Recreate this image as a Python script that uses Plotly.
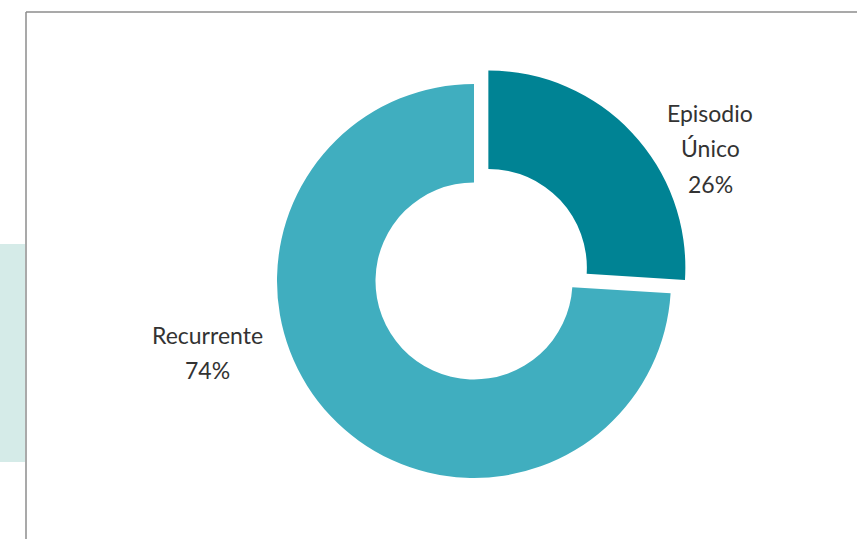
import plotly.graph_objects as go

# Data
labels = ["Episodio Único", "Recurrente"]
label_lines = [["Episodio", "Único"], ["Recurrente"]]
values = [26, 74]
colors = ["#008394", "#40AEBF"]
pulls = [0.10, 0.0]

W, H = 857, 539
cx, cy = 474, 281          # pie centre in pixels (from top)
r = 197                    # outer radius in pixels
half = r * (1 + max(pulls))

fig = go.Figure()
fig.add_trace(go.Pie(
    labels=labels, values=values, sort=False, direction="clockwise", rotation=0,
    hole=0.5, pull=pulls, marker=dict(colors=colors, line=dict(width=0)),
    textinfo="none", hoverinfo="label+percent", showlegend=False,
    domain=dict(x=[(cx - half) / W, (cx + half) / W],
                y=[(H - cy - half) / H, (H - cy + half) / H]),
))

# labels (outside text)
label_pos = [(710, [113, 148, 184]), (207, [335, 370])]
annotations = []
for lines, v, (lx, ys) in zip(label_lines, values, label_pos):
    texts = lines + [f"{v}%"]
    for t, y in zip(texts, ys):
        annotations.append(dict(
            text=t, x=lx / W, y=1 - y / H, xref="paper", yref="paper",
            showarrow=False, xanchor="center", yanchor="middle",
            font=dict(family="Lato", size=23, color="#333333")))

shapes = [
    dict(type="rect", xref="paper", yref="paper", x0=0, x1=25 / W,
         y0=1 - 462 / H, y1=1 - 244 / H, fillcolor="#D5EBE8", line=dict(width=0), layer="below"),
    dict(type="line", xref="paper", yref="paper", x0=26 / W, x1=1,
         y0=1 - 12 / H, y1=1 - 12 / H, line=dict(color="#8C8C8C", width=1.5)),
    dict(type="line", xref="paper", yref="paper", x0=26 / W, x1=26 / W,
         y0=0, y1=1 - 12 / H, line=dict(color="#8C8C8C", width=1.5)),
]

fig.update_layout(
    width=W, height=H, margin=dict(l=0, r=0, t=0, b=0),
    paper_bgcolor="white", plot_bgcolor="white",
    annotations=annotations, shapes=shapes,
)
fig.write_html("out.html", config={"displayModeBar": False},
               post_script="document.body.style.margin='0';")
